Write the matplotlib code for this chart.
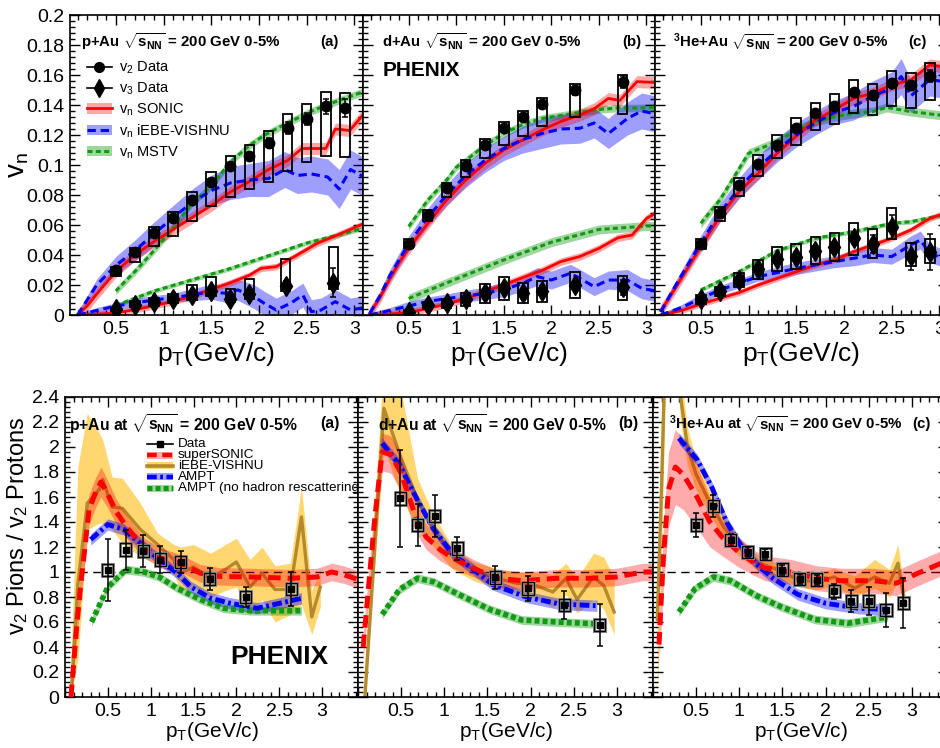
import matplotlib.pyplot as plt
import numpy as np
from matplotlib.patches import Rectangle, Patch
from matplotlib.lines import Line2D
from matplotlib.ticker import MultipleLocator, FuncFormatter

plt.rcParams['font.family'] = ['Liberation Sans', 'DejaVu Sans']
plt.rcParams['mathtext.fontset'] = 'custom'
plt.rcParams['mathtext.rm'] = 'Liberation Sans'
plt.rcParams['mathtext.it'] = 'Liberation Sans:italic'
plt.rcParams['mathtext.bf'] = 'Liberation Sans:bold'
plt.rcParams['lines.scale_dashes'] = False

# ---------------- v2 / v3 vs pT : measured points ----------------
pt_bins = [0.5, 0.7, 0.9, 1.1, 1.3, 1.5, 1.7, 1.9, 2.1, 2.3, 2.5, 2.7, 2.9]

pau_v2 = [0.030, 0.042, 0.055, 0.065, 0.077, 0.089, 0.0995, 0.106, 0.115, 0.125, 0.131, 0.139, 0.138]
pau_v2_stat = [0.001, 0.001, 0.001, 0.001, 0.0015, 0.0015, 0.002, 0.002, 0.003, 0.004, 0.004, 0.005, 0.006]
pau_v2_lo = [0.026, 0.0356, 0.046, 0.053, 0.063, 0.073, 0.0785, 0.0838, 0.0884, 0.0962, 0.1018, 0.106, 0.1051]
pau_v2_hi = [0.0322, 0.0445, 0.0585, 0.069, 0.082, 0.0955, 0.1062, 0.1133, 0.1229, 0.134, 0.1407, 0.1489, 0.1478]
pau_v3_pt = [0.5, 0.7, 0.9, 1.1, 1.3, 1.5, 1.7, 1.9, 2.28, 2.78]
pau_v3 = [0.0038, 0.007, 0.0085, 0.0105, 0.0133, 0.016, 0.011, 0.0138, 0.0195, 0.0216]
pau_v3_stat = [0.001, 0.001, 0.0015, 0.0015, 0.0015, 0.002, 0.0025, 0.003, 0.0035, 0.0095]
pau_v3_lo = [0.0025, 0.0051, 0.0062, 0.0078, 0.010, 0.0127, 0.0089, 0.0104, 0.0162, 0.0173]
pau_v3_hi = [0.005, 0.0093, 0.0115, 0.014, 0.020, 0.0256, 0.0171, 0.0238, 0.0373, 0.0456]

dau_pt = [0.5, 0.7, 0.9, 1.1, 1.3, 1.5, 1.7, 1.9, 2.25, 2.75]
dau_v2 = [0.0473, 0.0667, 0.0845, 0.0996, 0.1133, 0.1245, 0.132, 0.1407, 0.150, 0.1556]
dau_v2_stat = [0.0007, 0.0008, 0.001, 0.001, 0.001, 0.0012, 0.0015, 0.002, 0.003, 0.004]
dau_v2_lo = [0.0444, 0.0629, 0.0789, 0.0922, 0.1044, 0.1133, 0.1193, 0.1262, 0.1322, 0.134]
dau_v2_hi = [0.0504, 0.070, 0.0878, 0.1033, 0.1171, 0.1289, 0.1362, 0.1449, 0.154, 0.160]
dau_v3 = [0.0022, 0.0067, 0.0082, 0.0104, 0.0144, 0.0178, 0.0144, 0.0162, 0.020, 0.0184]
dau_v3_stat = [0.0008, 0.001, 0.0012, 0.0015, 0.0015, 0.002, 0.0025, 0.003, 0.003, 0.005]
dau_v3_lo = [0.0012, 0.0038, 0.0044, 0.006, 0.0082, 0.010, 0.0082, 0.0089, 0.0111, 0.010]
dau_v3_hi = [0.0032, 0.0089, 0.011, 0.0144, 0.0204, 0.0256, 0.0211, 0.0227, 0.0289, 0.026]

heau_v2 = [0.0473, 0.0678, 0.0867, 0.1007, 0.1133, 0.1244, 0.1344, 0.1393, 0.1484, 0.1467, 0.1544, 0.1533, 0.1593]
heau_v2_stat = [0.0007, 0.0008, 0.001, 0.001, 0.001, 0.0012, 0.0015, 0.002, 0.002, 0.0025, 0.003, 0.003, 0.004]
heau_v2_lo = [0.0438, 0.0629, 0.0793, 0.0927, 0.1044, 0.1133, 0.1233, 0.1273, 0.1344, 0.1333, 0.1393, 0.1378, 0.1433]
heau_v2_hi = [0.0504, 0.0722, 0.0911, 0.1067, 0.12, 0.1311, 0.1411, 0.1473, 0.1567, 0.1538, 0.1629, 0.1616, 0.1682]
heau_v3 = [0.0104, 0.016, 0.0233, 0.0304, 0.0371, 0.0389, 0.0429, 0.0451, 0.0511, 0.0473, 0.0589, 0.0393, 0.0422]
heau_v3_stat = [0.001, 0.0015, 0.002, 0.002, 0.0025, 0.003, 0.003, 0.0035, 0.004, 0.006, 0.008, 0.009, 0.012]
heau_v3_lo = [0.0073, 0.0127, 0.0184, 0.0238, 0.0296, 0.0304, 0.034, 0.0362, 0.040, 0.0378, 0.0504, 0.0327, 0.0344]
heau_v3_hi = [0.0131, 0.0189, 0.0282, 0.0367, 0.0451, 0.0473, 0.0518, 0.0544, 0.0616, 0.0571, 0.0711, 0.0478, 0.0504]

# ---------------- v2 / v3 vs pT : model curves (x, value, band half-width) ----------------
pau_sonic_v2_x = [0.1, 0.2, 0.3, 0.5, 0.7, 0.9, 1.1, 1.3, 1.5, 1.7, 1.9, 2.1, 2.3, 2.45, 2.7, 2.8, 2.95, 3.1]
pau_sonic_v2 = [0.0, 0.006, 0.014, 0.029, 0.040, 0.049, 0.057, 0.065, 0.073, 0.082, 0.089, 0.097, 0.103, 0.111, 0.111, 0.124, 0.123, 0.134]
pau_sonic_v2_e = 0.004
pau_ebe_v2_x = [0.1, 0.2, 0.3, 0.5, 0.7, 0.9, 1.1, 1.3, 1.5, 1.7, 1.9, 2.1, 2.27, 2.4, 2.55, 2.72, 2.84, 2.96, 3.1]
pau_ebe_v2 = [0.0, 0.010, 0.020, 0.033, 0.043, 0.054, 0.065, 0.075, 0.083, 0.088, 0.090, 0.091, 0.097, 0.093, 0.094, 0.092, 0.084, 0.097, 0.092]
pau_ebe_v2_e = [0.002, 0.003, 0.004, 0.006, 0.007, 0.008, 0.008, 0.009, 0.010, 0.011, 0.011, 0.012, 0.012, 0.012, 0.012, 0.012, 0.013, 0.013, 0.013]
pau_mstv_v2_x = [0.5, 0.7, 0.9, 1.1, 1.3, 1.5, 1.7, 1.9, 2.06, 2.3, 2.54, 2.75, 3.0, 3.1]
pau_mstv_v2 = [0.016, 0.029, 0.043, 0.058, 0.0745, 0.086, 0.102, 0.113, 0.120, 0.128, 0.1356, 0.141, 0.1467, 0.149]
pau_mstv_v2_e = 0.0025
pau_sonic_v3_x = [0.1, 0.3, 0.5, 0.7, 0.9, 1.1, 1.3, 1.5, 1.7, 1.9, 2.02, 2.18, 2.37, 2.61, 2.82, 3.1]
pau_sonic_v3 = [0.0, 0.0005, 0.0015, 0.0035, 0.0062, 0.009, 0.0127, 0.017, 0.0215, 0.0265, 0.0311, 0.0322, 0.0389, 0.0478, 0.0533, 0.061]
pau_sonic_v3_e = 0.0022
pau_ebe_v3_x = [0.1, 0.3, 0.5, 0.7, 0.9, 1.1, 1.3, 1.5, 1.65, 1.78, 1.95, 2.05, 2.18, 2.33, 2.46, 2.55, 2.65, 2.8, 2.96, 3.1]
pau_ebe_v3 = [0.0, 0.003, 0.006, 0.008, 0.010, 0.0115, 0.0135, 0.0155, 0.0145, 0.0167, 0.0122, 0.008, 0.0033, 0.0078, 0.0133, 0.0022, 0.0033, 0.0089, 0.0033, 0.005]
pau_ebe_v3_e = [0.001, 0.002, 0.002, 0.003, 0.003, 0.003, 0.004, 0.005, 0.006, 0.007, 0.008, 0.008, 0.008, 0.008, 0.008, 0.008, 0.008, 0.008, 0.008, 0.008]
pau_mstv_v3_x = [0.5, 0.9, 1.3, 1.7, 2.1, 2.5, 2.9, 3.1]
pau_mstv_v3 = [0.0063, 0.016, 0.0235, 0.031, 0.0395, 0.048, 0.0545, 0.058]
pau_mstv_v3_e = 0.0015

dau_sonic_v2_x = [0.09, 0.2, 0.3, 0.4, 0.5, 0.7, 0.9, 1.1, 1.3, 1.5, 1.7, 1.9, 2.1, 2.3, 2.45, 2.6, 2.72, 2.9, 3.1]
dau_sonic_v2 = [0.001, 0.012, 0.024, 0.035, 0.0444, 0.061, 0.0767, 0.090, 0.101, 0.110, 0.1167, 0.1233, 0.129, 0.1333, 0.1375, 0.1444, 0.143, 0.1556, 0.155]
dau_sonic_v2_e = 0.004
dau_ebe_v2_x = [0.09, 0.2, 0.3, 0.5, 0.7, 0.9, 1.1, 1.3, 1.5, 1.7, 1.9, 2.1, 2.3, 2.45, 2.6, 2.8, 2.95, 3.1]
dau_ebe_v2 = [0.001, 0.013, 0.026, 0.0475, 0.065, 0.080, 0.093, 0.103, 0.111, 0.117, 0.121, 0.124, 0.1245, 0.128, 0.121, 0.131, 0.136, 0.134]
dau_ebe_v2_e = [0.002, 0.003, 0.004, 0.005, 0.006, 0.007, 0.008, 0.008, 0.008, 0.009, 0.01, 0.01, 0.01, 0.01, 0.01, 0.011, 0.012, 0.012]
dau_mstv_v2_x = [0.5, 0.7, 0.9, 1.0, 1.1, 1.3, 1.5, 1.7, 1.9, 2.1, 2.3, 2.5, 2.7, 2.9, 3.1]
dau_mstv_v2 = [0.059, 0.0765, 0.090, 0.0985, 0.103, 0.113, 0.121, 0.127, 0.131, 0.133, 0.135, 0.137, 0.138, 0.138, 0.1385]
dau_mstv_v2_e = 0.0025
dau_sonic_v3_x = [0.09, 0.3, 0.5, 0.7, 0.9, 1.1, 1.3, 1.5, 1.7, 1.9, 2.1, 2.3, 2.5, 2.7, 2.85, 3.0, 3.1]
dau_sonic_v3 = [0.0, 0.0006, 0.0016, 0.0044, 0.0073, 0.011, 0.0156, 0.020, 0.025, 0.0296, 0.0356, 0.039, 0.0444, 0.0515, 0.0533, 0.0644, 0.068]
dau_sonic_v3_e = 0.0025
dau_ebe_v3_x = [0.09, 0.3, 0.5, 0.7, 0.9, 1.1, 1.3, 1.5, 1.7, 1.85, 2.0, 2.2, 2.3, 2.45, 2.6, 2.8, 2.95, 3.1]
dau_ebe_v3 = [0.0, 0.003, 0.006, 0.009, 0.011, 0.0125, 0.0145, 0.017, 0.021, 0.0256, 0.0233, 0.0278, 0.0244, 0.0189, 0.0233, 0.0233, 0.0178, 0.016]
dau_ebe_v3_e = [0.001, 0.002, 0.003, 0.003, 0.003, 0.004, 0.004, 0.005, 0.005, 0.006, 0.006, 0.006, 0.006, 0.006, 0.006, 0.007, 0.007, 0.007]
dau_mstv_v3_x = [0.5, 1.0, 1.5, 2.0, 2.5, 3.0, 3.1]
dau_mstv_v3 = [0.011, 0.024, 0.0367, 0.0485, 0.057, 0.0593, 0.0595]
dau_mstv_v3_e = 0.003

heau_sonic_v2_x = [0.08, 0.22, 0.5, 0.7, 0.9, 1.1, 1.3, 1.5, 1.7, 1.9, 2.1, 2.3, 2.5, 2.7, 2.9, 3.1]
heau_sonic_v2 = [0.003, 0.0167, 0.0456, 0.0656, 0.0822, 0.0944, 0.1078, 0.1193, 0.13, 0.1367, 0.1444, 0.1478, 0.1533, 0.1567, 0.1667, 0.165]
heau_sonic_v2_e = 0.004
heau_ebe_v2_x = [0.08, 0.22, 0.5, 0.7, 0.9, 1.1, 1.3, 1.5, 1.7, 1.9, 2.1, 2.3, 2.5, 2.6, 2.7, 2.9, 3.1]
heau_ebe_v2 = [0.002, 0.018, 0.048, 0.068, 0.0845, 0.098, 0.11, 0.12, 0.128, 0.135, 0.139, 0.146, 0.151, 0.159, 0.146, 0.157, 0.155]
heau_ebe_v2_e = [0.002, 0.003, 0.005, 0.006, 0.007, 0.008, 0.008, 0.008, 0.008, 0.008, 0.009, 0.01, 0.011, 0.012, 0.011, 0.011, 0.011]
heau_mstv_v2_x = [0.5, 0.7, 1.0, 1.3, 1.5, 1.7, 1.9, 2.1, 2.3, 2.45, 2.7, 3.0, 3.1]
heau_mstv_v2 = [0.0611, 0.0767, 0.1078, 0.1156, 0.1233, 0.1289, 0.1322, 0.1344, 0.1356, 0.1384, 0.1356, 0.1333, 0.133]
heau_mstv_v2_e = 0.003
heau_sonic_v3_x = [0.08, 0.3, 0.5, 0.7, 0.9, 1.1, 1.3, 1.5, 1.7, 1.9, 2.1, 2.3, 2.5, 2.7, 2.9, 3.1]
heau_sonic_v3 = [0.0, 0.003, 0.0073, 0.0111, 0.0149, 0.020, 0.0244, 0.0289, 0.0333, 0.0367, 0.0422, 0.0467, 0.0511, 0.0567, 0.0644, 0.069]
heau_sonic_v3_e = 0.002
heau_ebe_v3_x = [0.08, 0.3, 0.5, 0.7, 0.9, 1.1, 1.3, 1.5, 1.7, 1.9, 2.1, 2.3, 2.5, 2.7, 2.8, 2.9, 3.1]
heau_ebe_v3 = [0.0, 0.005, 0.011, 0.0167, 0.0211, 0.0256, 0.0282, 0.0311, 0.0333, 0.0356, 0.0378, 0.040, 0.0389, 0.0467, 0.050, 0.041, 0.0367]
heau_ebe_v3_e = [0.001, 0.002, 0.003, 0.003, 0.003, 0.003, 0.004, 0.004, 0.004, 0.004, 0.005, 0.005, 0.005, 0.006, 0.006, 0.006, 0.006]
heau_mstv_v3_x = [0.5, 0.9, 1.3, 1.7, 2.1, 2.5, 2.7, 3.1]
heau_mstv_v3 = [0.0167, 0.0289, 0.0429, 0.0511, 0.0556, 0.0611, 0.0622, 0.0675]
heau_mstv_v3_e = 0.0015

# ---------------- v2(pions) / v2(protons) ----------------
pau_r_x = [0.5, 0.71, 0.915, 1.11, 1.35, 1.69, 2.11, 2.64]
pau_r = [1.016, 1.18, 1.17, 1.10, 1.08, 0.944, 0.80, 0.864]
pau_r_err = [0.25, 0.16, 0.13, 0.11, 0.09, 0.085, 0.083, 0.137]
dau_r_x = [0.49, 0.69, 0.89, 1.15, 1.59, 1.97, 2.39, 2.8]
dau_r = [1.59, 1.376, 1.448, 1.19, 0.957, 0.87, 0.736, 0.576]
dau_r_err = [0.39, 0.17, 0.165, 0.09, 0.09, 0.1, 0.11, 0.17]
heau_r_x = [0.5, 0.7, 0.9, 1.1, 1.3, 1.5, 1.7, 1.9, 2.1, 2.3, 2.5, 2.7, 2.9]
heau_r = [1.376, 1.528, 1.256, 1.162, 1.144, 1.02, 0.946, 0.94, 0.848, 0.77, 0.768, 0.696, 0.754]
heau_r_err = [0.094, 0.085, 0.05, 0.04, 0.04, 0.04, 0.04, 0.04, 0.06, 0.09, 0.11, 0.135, 0.2]

pau_ss_x = [0.07, 0.14, 0.19, 0.23, 0.28, 0.36, 0.42, 0.5, 0.6, 0.73, 0.93, 1.12, 1.35, 1.58, 1.8, 2.16, 2.63, 2.94, 3.11, 3.25, 3.42]
pau_ss = [0.0, 0.59, 0.94, 1.18, 1.5, 1.64, 1.72, 1.62, 1.48, 1.35, 1.19, 1.11, 1.07, 0.99, 0.965, 0.96, 0.95, 0.96, 1.0, 0.98, 0.94]
pau_ss_e = [0.05, 0.1, 0.12, 0.12, 0.12, 0.12, 0.12, 0.11, 0.1, 0.09, 0.08, 0.08, 0.07, 0.07, 0.07, 0.07, 0.07, 0.07, 0.07, 0.07, 0.07]
pau_vis_x = [0.07, 0.15, 0.26, 0.4, 0.44, 0.55, 0.67, 0.88, 1.08, 1.27, 1.35, 1.5, 1.7, 1.87, 2.0, 2.16, 2.3, 2.45, 2.63, 2.76, 2.88, 2.98]
pau_vis = [0.0, 0.9, 1.55, 1.66, 1.74, 1.52, 1.51, 1.34, 1.22, 1.1, 0.99, 1.04, 0.95, 1.02, 1.08, 0.88, 0.99, 0.86, 0.86, 1.44, 0.64, 0.88]
pau_vis_hi = [0.3, 1.84, 2.27, 2.11, 2.06, 1.76, 1.75, 1.55, 1.31, 1.22, 1.2, 1.22, 1.15, 1.22, 1.27, 1.1, 1.2, 1.05, 1.07, 1.68, 0.85, 1.02]
pau_vis_lo = [0.0, 0.3, 1.34, 1.39, 1.39, 1.34, 1.23, 1.12, 1.07, 0.98, 0.85, 0.87, 0.8, 0.85, 0.88, 0.66, 0.78, 0.6, 0.66, 0.74, 0.5, 0.72]
pau_ampt_x = [0.3, 0.5, 0.69, 0.88, 1.08, 1.31, 1.47, 1.7, 1.93, 2.24, 2.51, 2.76]
pau_ampt = [1.26, 1.38, 1.34, 1.23, 1.11, 0.99, 0.88, 0.79, 0.75, 0.71, 0.75, 0.79]
pau_norescat_x = [0.31, 0.5, 0.71, 0.92, 1.1, 1.31, 1.58, 1.85, 2.16, 2.45, 2.76]
pau_norescat = [0.6, 0.88, 1.02, 1.0, 0.96, 0.87, 0.78, 0.71, 0.69, 0.69, 0.69]

dau_ss_x = [0.06, 0.13, 0.2, 0.28, 0.38, 0.5, 0.67, 0.79, 0.95, 1.1, 1.34, 1.6, 1.91, 2.3, 2.69, 3.0, 3.3, 3.45]
dau_ss = [0.4, 0.94, 1.47, 1.96, 1.94, 1.79, 1.44, 1.28, 1.18, 1.11, 1.03, 0.95, 0.93, 0.95, 0.95, 0.96, 1.0, 1.0]
dau_ss_e = [0.1, 0.12, 0.14, 0.15, 0.15, 0.14, 0.12, 0.1, 0.09, 0.08, 0.07, 0.07, 0.07, 0.07, 0.07, 0.07, 0.07, 0.07]
dau_vis_x = [0.08, 0.3, 0.5, 0.69, 0.88, 1.1, 1.34, 1.6, 1.84, 2.03, 2.26, 2.41, 2.54, 2.73, 2.85, 2.97]
dau_vis = [0.0, 2.31, 1.91, 1.58, 1.34, 1.13, 1.02, 0.95, 0.91, 0.9, 0.84, 0.95, 0.78, 0.96, 0.89, 0.68]
dau_vis_hi = [0.3, 2.7, 2.45, 1.75, 1.45, 1.2, 1.08, 1.03, 1.0, 1.0, 0.98, 1.07, 0.95, 1.15, 1.12, 0.95]
dau_vis_lo = [0.0, 2.0, 1.6, 1.35, 1.2, 1.02, 0.93, 0.87, 0.83, 0.8, 0.72, 0.82, 0.67, 0.78, 0.7, 0.5]
dau_ampt_x = [0.28, 0.48, 0.67, 0.86, 1.1, 1.34, 1.56, 1.95, 2.34, 2.77]
dau_ampt = [2.03, 1.86, 1.6, 1.36, 1.14, 1.02, 0.9, 0.8, 0.744, 0.73]
dau_norescat_x = [0.28, 0.48, 0.69, 0.88, 1.14, 1.53, 1.9, 2.3, 2.77]
dau_norescat = [0.66, 0.86, 0.95, 0.92, 0.83, 0.70, 0.616, 0.6, 0.585]

heau_ss_x = [0.07, 0.12, 0.18, 0.26, 0.35, 0.51, 0.66, 0.8, 0.99, 1.18, 1.3, 1.6, 1.9, 2.18, 2.56, 2.82, 3.07, 3.34, 3.45]
heau_ss = [0.42, 1.12, 1.66, 1.84, 1.78, 1.6, 1.4, 1.28, 1.16, 1.07, 1.03, 1.0, 0.95, 0.93, 0.93, 0.91, 0.99, 1.07, 1.09]
heau_ss_e = [0.15, 0.25, 0.3, 0.3, 0.28, 0.25, 0.2, 0.15, 0.12, 0.1, 0.1, 0.1, 0.1, 0.1, 0.1, 0.1, 0.1, 0.1, 0.1]
heau_vis_x = [0.05, 0.1, 0.15, 0.25, 0.32, 0.4, 0.5, 0.64, 0.82, 1.0, 1.2, 1.4, 1.68, 1.9, 2.1, 2.34, 2.57, 2.74, 2.84, 2.92]
heau_vis = [0.62, 1.7, 3.0, 3.2, 2.4, 2.0, 1.78, 1.58, 1.36, 1.2, 1.08, 1.03, 0.94, 0.92, 0.96, 0.87, 0.96, 0.91, 1.07, 0.75]
heau_vis_hi = [0.8, 2.2, 3.4, 3.5, 2.6, 2.15, 1.9, 1.68, 1.45, 1.27, 1.14, 1.08, 1.0, 0.99, 1.03, 0.97, 1.1, 1.02, 1.22, 0.82]
heau_vis_lo = [0.0, 1.2, 2.6, 2.9, 2.2, 1.85, 1.66, 1.48, 1.27, 1.13, 1.02, 0.97, 0.88, 0.86, 0.89, 0.8, 0.87, 0.8, 0.93, 0.68]
heau_ampt_x = [0.3, 0.51, 0.68, 0.86, 1.03, 1.22, 1.39, 1.68, 2.0, 2.38, 2.72]
heau_ampt = [2.07, 1.9, 1.68, 1.39, 1.2, 1.05, 0.95, 0.82, 0.75, 0.71, 0.70]
heau_norescat_x = [0.3, 0.49, 0.7, 0.9, 1.2, 1.49, 1.88, 2.26, 2.72]
heau_norescat = [0.68, 0.87, 0.96, 0.93, 0.81, 0.72, 0.62, 0.59, 0.64]

ampt_e = 0.045
norescat_e = 0.035

RED, BLUE, GREEN = '#ff0000', '#0000ff', '#119911'
BROWN, YELLOW = '#b48a2c', '#ffc940'

W, H = 940, 748
fig = plt.figure(figsize=(W / 100, H / 100), dpi=100)


def add_px_axes(left, top, width, height):
    return fig.add_axes([left / W, 1 - (top + height) / H, width / W, height / H])


def frac(box, x, y):
    left, top, width, height = box
    return (x - left) / width, 1 - (y - top) / height


def px_text(ax, box, x, y, s, **kw):
    fx, fy = frac(box, x, y)
    ax.text(fx, fy, s, transform=ax.transAxes, va='center', ha='left', clip_on=False, **kw)


def tick_fmt(v, pos):
    if abs(v) < 1e-9:
        return '0'
    return f'{v:.3g}'


def x_fmt(v, pos):
    return '' if v < 0.25 else f'{v:.3g}'


def frame(ax, xlim, ylim, ymajor, show_y):
    ax.set_xlim(*xlim)
    ax.set_ylim(*ylim)
    ax.xaxis.set_major_locator(MultipleLocator(0.5))
    ax.xaxis.set_minor_locator(MultipleLocator(0.1))
    ax.yaxis.set_major_locator(MultipleLocator(ymajor))
    ax.yaxis.set_minor_locator(MultipleLocator(ymajor / 5))
    ax.xaxis.set_major_formatter(FuncFormatter(x_fmt))
    ax.yaxis.set_major_formatter(FuncFormatter(tick_fmt))
    ax.tick_params(which='both', direction='in', top=True, right=True, labelsize=14,
                   width=1.0, labelleft=show_y)
    ax.tick_params(which='major', length=7, pad=4)
    ax.tick_params(which='minor', length=3.5)
    for s in ax.spines.values():
        s.set_linewidth(1.2)


def band(ax, x, y, e, color, alpha, z):
    x, y = np.asarray(x), np.asarray(y)
    e = np.asarray(e) * np.ones_like(y)
    ax.fill_between(x, y - e, y + e, color=color, alpha=alpha, lw=0, zorder=z)


def boxes(ax, x, lo, hi, half, **kw):
    for xi, l, h in zip(x, lo, hi):
        ax.add_patch(Rectangle((xi - half, l), 2 * half, h - l, fill=False, zorder=4, **kw))


def legend_key(ax, box, y, x0, x1, line_kw, band_kw=None, marker_kw=None):
    fx0, fy = frac(box, x0, y)
    fx1, _ = frac(box, x1, y)
    if band_kw is not None:
        bh = 7 / box[3]
        ax.add_patch(Rectangle((fx0, fy - bh / 2), fx1 - fx0, bh, transform=ax.transAxes,
                               lw=0, clip_on=False, zorder=6, **band_kw))
    ax.add_line(Line2D([fx0, fx1], [fy, fy], transform=ax.transAxes, clip_on=False,
                       zorder=7, **line_kw))
    if marker_kw is not None:
        ax.add_line(Line2D([(fx0 + fx1) / 2], [fy], transform=ax.transAxes, clip_on=False,
                           zorder=8, **marker_kw))


# ---------------- top row: vn vs pT ----------------
top_sets = [
    dict(v2=(pt_bins, pau_v2, pau_v2_stat, pau_v2_lo, pau_v2_hi),
         v3=(pau_v3_pt, pau_v3, pau_v3_stat, pau_v3_lo, pau_v3_hi),
         sonic=[(pau_sonic_v2_x, pau_sonic_v2, pau_sonic_v2_e), (pau_sonic_v3_x, pau_sonic_v3, pau_sonic_v3_e)],
         ebe=[(pau_ebe_v2_x, pau_ebe_v2, pau_ebe_v2_e), (pau_ebe_v3_x, pau_ebe_v3, pau_ebe_v3_e)],
         mstv=[(pau_mstv_v2_x, pau_mstv_v2, pau_mstv_v2_e), (pau_mstv_v3_x, pau_mstv_v3, pau_mstv_v3_e)]),
    dict(v2=(dau_pt, dau_v2, dau_v2_stat, dau_v2_lo, dau_v2_hi),
         v3=(dau_pt, dau_v3, dau_v3_stat, dau_v3_lo, dau_v3_hi),
         sonic=[(dau_sonic_v2_x, dau_sonic_v2, dau_sonic_v2_e), (dau_sonic_v3_x, dau_sonic_v3, dau_sonic_v3_e)],
         ebe=[(dau_ebe_v2_x, dau_ebe_v2, dau_ebe_v2_e), (dau_ebe_v3_x, dau_ebe_v3, dau_ebe_v3_e)],
         mstv=[(dau_mstv_v2_x, dau_mstv_v2, dau_mstv_v2_e), (dau_mstv_v3_x, dau_mstv_v3, dau_mstv_v3_e)]),
    dict(v2=(pt_bins, heau_v2, heau_v2_stat, heau_v2_lo, heau_v2_hi),
         v3=(pt_bins, heau_v3, heau_v3_stat, heau_v3_lo, heau_v3_hi),
         sonic=[(heau_sonic_v2_x, heau_sonic_v2, heau_sonic_v2_e), (heau_sonic_v3_x, heau_sonic_v3, heau_sonic_v3_e)],
         ebe=[(heau_ebe_v2_x, heau_ebe_v2, heau_ebe_v2_e), (heau_ebe_v3_x, heau_ebe_v3, heau_ebe_v3_e)],
         mstv=[(heau_mstv_v2_x, heau_mstv_v2, heau_mstv_v2_e), (heau_mstv_v3_x, heau_mstv_v3, heau_mstv_v3_e)]),
]
systems = ['p+Au', 'd+Au', r'$^{\mathbf{3}}$He+Au']
top_boxes = [(70, 15, 293, 300), (363, 15, 292, 300), (655, 15, 293, 300)]
top_title_x = [81, 382, 673]
top_tag_x = [320, 622, 908]
root_s = r'$\sqrt{\mathbf{s}_{\mathbf{NN}}}$'

for i, (d, box) in enumerate(zip(top_sets, top_boxes)):
    ax = add_px_axes(*box)
    frame(ax, (0.02, 3.09), (0, 0.2), 0.02, i == 0)
    for x, y, e in d['mstv']:
        band(ax, x, y, e, GREEN, 0.4, 1)
    for x, y, e in d['ebe']:
        band(ax, x, y, e, BLUE, 0.38, 1)
    for x, y, e in d['sonic']:
        band(ax, x, y, e, RED, 0.35, 1)
    for x, y, e in d['mstv']:
        ax.plot(x, y, color=GREEN, lw=2.2, dashes=(3.6, 2.4), zorder=2)
    for x, y, e in d['sonic']:
        ax.plot(x, y, color=RED, lw=2.0, zorder=2)
    for x, y, e in d['ebe']:
        ax.plot(x, y, color=BLUE, lw=2.2, dashes=(6, 3.5), zorder=2)
    for key, mk, ms in (('v2', 'o', 7.5), ('v3', 'd', 10)):
        x, y, st, lo, hi = d[key]
        boxes(ax, x, lo, hi, 0.05, edgecolor='k', lw=1.3)
        ax.errorbar(x, y, yerr=st, fmt=mk, color='k', ms=ms, elinewidth=1.1,
                    capsize=2, capthick=1.1, zorder=5)
    ax.set_xlabel(r'p$_{\mathrm{T}}$(GeV/c)', fontsize=19, labelpad=2)
    px_text(ax, box, top_title_x[i], 42, systems[i] + ' ' + root_s + ' = 200 GeV 0-5%',
            fontsize=10.8, fontweight='bold')
    px_text(ax, box, top_tag_x[i], 42, f'({"abc"[i]})', fontsize=10.8, fontweight='bold')
    if i == 0:
        ax.set_ylabel(r'v$_{\mathrm{n}}$', fontsize=20)
        ax.yaxis.set_label_coords((31 - box[0]) / box[2], 0.5)
        handles = [
            Line2D([], [], color='k', marker='o', ms=7, lw=1.2),
            Line2D([], [], color='k', marker='d', ms=9, lw=1.2),
            (Patch(color=RED, alpha=0.35, lw=0), Line2D([], [], color=RED, lw=2)),
            (Patch(color=BLUE, alpha=0.38, lw=0), Line2D([], [], color=BLUE, lw=2.2, dashes=(6, 3.5))),
            (Patch(color=GREEN, alpha=0.4, lw=0), Line2D([], [], color=GREEN, lw=2.2, dashes=(3.6, 2.4))),
        ]
        labels = [r'v$_{2}$ Data', r'v$_{3}$ Data', r'v$_{\mathrm{n}}$ SONIC',
                  r'v$_{\mathrm{n}}$ iEBE-VISHNU', r'v$_{\mathrm{n}}$ MSTV']
        ax.legend(handles, labels, loc='upper left', bbox_to_anchor=(0.058, 0.85), frameon=False,
                  fontsize=10.5, handlelength=1.7, handletextpad=0.5, labelspacing=0.3,
                  borderpad=0, borderaxespad=0)
    if i == 1:
        px_text(ax, box, 383, 70, 'PHENIX', fontsize=15, fontweight='bold')

# ---------------- bottom row: v2 pions / v2 protons ----------------
bot_sets = [
    dict(data=(pau_r_x, pau_r, pau_r_err), ss=(pau_ss_x, pau_ss, pau_ss_e),
         vis=(pau_vis_x, pau_vis, pau_vis_lo, pau_vis_hi), ampt=(pau_ampt_x, pau_ampt),
         nores=(pau_norescat_x, pau_norescat)),
    dict(data=(dau_r_x, dau_r, dau_r_err), ss=(dau_ss_x, dau_ss, dau_ss_e),
         vis=(dau_vis_x, dau_vis, dau_vis_lo, dau_vis_hi), ampt=(dau_ampt_x, dau_ampt),
         nores=(dau_norescat_x, dau_norescat)),
    dict(data=(heau_r_x, heau_r, heau_r_err), ss=(heau_ss_x, heau_ss, heau_ss_e),
         vis=(heau_vis_x, heau_vis, heau_vis_lo, heau_vis_hi), ampt=(heau_ampt_x, heau_ampt),
         nores=(heau_norescat_x, heau_norescat)),
]
bot_boxes = [(65, 397, 293, 300), (358, 397, 295, 300), (653, 397, 295, 300)]
bot_title_x = [69, 378, 669]
bot_tag_x = [320, 618, 912]
bot_title_size = [11.3, 11.3, 10.8]

ss_line = dict(color=RED, lw=3.6, dashes=(9, 5))
vis_line = dict(color=BROWN, lw=2.4)
ampt_line = dict(color=BLUE, lw=3.5, dashes=(7, 2.5, 2, 2.5))
nores_line = dict(color=GREEN, lw=4, dashes=(3.6, 2.2))

for i, (d, box) in enumerate(zip(bot_sets, bot_boxes)):
    ax = add_px_axes(*box)
    frame(ax, (0.0, 3.42), (0, 2.4), 0.2, i == 0)
    ax.axhline(1.0, color='k', lw=1.0, dashes=(6, 4), zorder=2)

    x, y, lo, hi = d['vis']
    ax.fill_between(x, lo, hi, color=YELLOW, alpha=0.75, lw=0, zorder=1)
    ax.plot(x, y, zorder=2, **vis_line)
    x, y, e = d['ss']
    band(ax, x, y, e, RED, 0.33, 3)
    x, y = d['nores']
    band(ax, x, y, norescat_e, GREEN, 0.4, 3)
    ax.plot(x, y, zorder=4, **nores_line)
    x, y = d['ampt']
    band(ax, x, y, ampt_e, BLUE, 0.38, 3)
    ax.plot(x, y, zorder=4, **ampt_line)
    x, y, e = d['ss']
    ax.plot(x, y, zorder=4, **ss_line)

    x, y, e = d['data']
    boxes(ax, x, np.asarray(y) - 0.05, np.asarray(y) + 0.05, 0.065, edgecolor='0.55', lw=2.2)
    boxes(ax, x, np.asarray(y) - 0.05, np.asarray(y) + 0.05, 0.065, edgecolor='k', lw=0.9)
    ax.errorbar(x, y, yerr=e, fmt='s', color='k', ms=5, elinewidth=1.1,
                capsize=2, capthick=1.1, zorder=6)

    ax.set_xlabel(r'p$_{\mathrm{T}}$(GeV/c)', fontsize=15, labelpad=0)
    title = systems[i] + ' at ' + root_s + ' = 200 GeV 0-5%'
    px_text(ax, box, bot_title_x[i], 424, title, fontsize=bot_title_size[i], fontweight='bold')
    px_text(ax, box, bot_tag_x[i], 424, f'({"abc"[i]})', fontsize=bot_title_size[i], fontweight='bold')
    if i == 0:
        ax.set_ylabel(r'v$_{2}$ Pions / v$_{2}$ Protons', fontsize=17)
        ax.yaxis.set_label_coords((30 - box[0]) / box[2], 0.57)
        px_text(ax, box, 230, 657, 'PHENIX', fontsize=19, fontweight='bold')
        rows = [
            ('Data', dict(color='k', lw=1.2), None, dict(color='k', marker='s', ms=5, lw=0)),
            ('superSONIC', dict(color=RED, lw=3.2, dashes=(7, 4)), dict(color=RED, alpha=0.33), None),
            ('iEBE-VISHNU', dict(color=BROWN, lw=2.6), dict(color=YELLOW, alpha=0.75), None),
            ('AMPT', dict(color=BLUE, lw=3.2, dashes=(7, 2.5, 2, 2.5)), dict(color=BLUE, alpha=0.38), None),
            ('AMPT (no hadron rescattering)', dict(color=GREEN, lw=3.6, dashes=(3.6, 2.2)),
             dict(color=GREEN, alpha=0.4), None),
        ]
        for k, (lab, lkw, bkw, mkw) in enumerate(rows):
            yy = 444 + 11 * k
            legend_key(ax, box, yy, 147, 173, lkw, bkw, mkw)
            px_text(ax, box, 178, yy, lab, fontsize=9.7)

fig.savefig('out.png', dpi=100)
